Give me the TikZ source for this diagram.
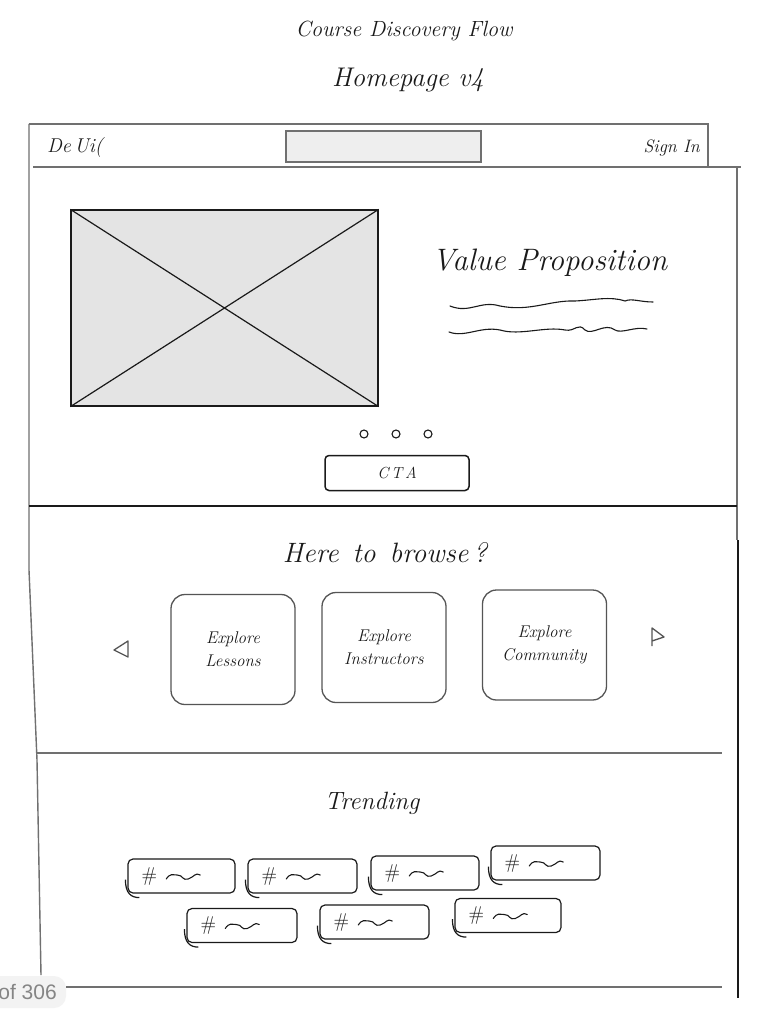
\documentclass[tikz,border=0pt]{standalone}
\usepackage{fontspec}
\newfontfamily\uisans{Liberation Sans}
\newcommand\hfs[1]{\fontsize{#1}{#1}\selectfont}
\definecolor{frame}{HTML}{707070}
\definecolor{ink}{HTML}{1A1A1A}
\definecolor{cardline}{HTML}{555555}
\definecolor{imgfill}{HTML}{E4E4E4}
\definecolor{searchfill}{HTML}{EEEEEE}
\definecolor{pillfill}{HTML}{F3F3F3}
\definecolor{pilltext}{HTML}{858585}
\tikzset{
  hand/.style={text=ink, font=\itshape, inner sep=0pt},
  framel/.style={draw=frame, line width=1.4pt},
  blackl/.style={draw=ink, line width=1.4pt},
  cardbox/.style={draw=cardline, line width=1.3pt, rounded corners=14pt, minimum width=124pt, minimum height=110pt, align=center, text=ink, font=\itshape\hfs{17}},
  tagbox/.style={draw=ink, line width=1.2pt, rounded corners=5pt, minimum height=34pt, inner sep=0pt},
  wave/.style={draw=ink, line width=1.1pt, line cap=round},
  hashtxt/.style={text=ink, font=\hfs{20}, inner sep=0pt}
}
\newcommand\tagitem[4]{% name, x, y, width
  \node[tagbox, minimum width=#4pt] (#1) at (#2,#3) {};
  \node[hashtxt, anchor=west] (#1h) at ([xshift=14pt]#1.west) {\#};
  \draw[wave] ([xshift=9pt,yshift=-3pt]#1h.east) .. controls +(4,-6) and +(-5,0) .. +(11,-4)
     .. controls +(6,0) and +(-6,2) .. +(22,0) .. controls +(6,-2) and +(-5,-3) .. +(34,-4);
  \draw[draw=ink, line width=1.2pt] ([xshift=-2pt,yshift=14pt]#1.south west) .. controls +(0,14) and +(-8,0) .. ([xshift=12pt,yshift=-4pt]#1.south west);
}
\begin{document}
\begin{tikzpicture}[x=1pt,y=-1pt]
\useasboundingbox (0,0) rectangle (769,1024);
\fill[white] (0,0) rectangle (769,1024);

% titles
\node[hand, font=\itshape\hfs{22}] (title) at (404,31) {Course Discovery Flow};
\node[hand, font=\itshape\hfs{27}] (sub) at (408,80) {Homepage v4};

% outer frame
\draw[framel] (29,124) -- (29,570) -- (37,760) -- (41,975);
\draw[framel] (29,124) -- (708,124) -- (708,167);
\draw[framel] (33,167) -- (741,167);
\draw[framel] (737,167) -- (737,540);
\draw[draw=ink, line width=2pt] (738,540) -- (738,998);
\draw[blackl] (29,506) -- (737,506);
\draw[framel] (37,753) -- (722,753);
\draw[framel] (66,987) -- (722,987);

% header
\node[hand, font=\itshape\hfs{20}, anchor=west] (logo) at (47,148) {De\,Ui(};
\node[draw=frame, line width=1.4pt, fill=searchfill, minimum width=195pt, minimum height=31pt, inner sep=0pt] (search) at (383.5,146.5) {};
\node[hand, font=\itshape\hfs{18}, anchor=east] (signin) at (700,148) {Sign In};

% hero
\node[draw=ink, line width=1.3pt, fill=imgfill, minimum width=307pt, minimum height=196pt, inner sep=0pt] (img) at (224.5,308) {};
\draw[draw=ink, line width=1.2pt] (img.north west) -- (img.south east);
\draw[draw=ink, line width=1.2pt] (img.south west) -- (img.north east);
\node[hand, font=\itshape\hfs{31}, anchor=west] (vp) at (432,263) {Value Proposition};
\draw[wave] (450,306) .. controls (470,314) and (480,300) .. (500,306) .. controls (530,312) and (550,300) .. (575,301)
   .. controls (595,300) and (610,296) .. (625,301) .. controls (632,298) and (640,302) .. (653,302);
\draw[wave] (449,332) .. controls (465,338) and (480,326) .. (500,330) .. controls (520,336) and (545,326) .. (565,330)
   .. controls (575,332) and (578,322) .. (585,330) .. controls (592,336) and (605,322) .. (615,330)
   .. controls (622,334) and (635,326) .. (647,329);
\foreach \cx/\nm in {364/d1,396/d2,428/d3}
  \node[draw=ink, line width=1.1pt, circle, minimum size=8pt, inner sep=0pt] (\nm) at (\cx,434) {};
\node[draw=ink, line width=1.5pt, rounded corners=4pt, minimum width=144pt, minimum height=35pt, text=ink, font=\itshape\hfs{16}] (cta) at (397,473) {C\,T\,A};

% browse
\node[hand, font=\itshape\hfs{28}] (browse) at (385,553) {Here\enspace to\enspace browse\,?};
\node[cardbox] (c1) at (233,649.5) {Explore\\[6pt]Lessons};
\node[cardbox] (c2) at (384,647.5) {Explore\\[6pt]Instructors};
\node[cardbox] (c3) at (544.5,645) {Explore\\[6pt]Community};
\draw[draw=cardline, line width=1.3pt, line join=round] (128,641) -- (114,650) -- (128,657) -- cycle;
\draw[draw=cardline, line width=1.3pt, line join=round] (652,646) -- (652,628) -- (664,637) -- (652,641);

% trending
\node[hand, font=\itshape\hfs{25}] (trend) at (372,803) {Trending};
\tagitem{t1}{181.5}{876}{107}
\tagitem{t2}{302.5}{876}{109}
\tagitem{t3}{425}{873}{108}
\tagitem{t4}{545.5}{863}{109}
\tagitem{t5}{242}{925.5}{110}
\tagitem{t6}{374.5}{922}{109}
\tagitem{t7}{508}{915.5}{106}

% page pill
\fill[pillfill, rounded corners=12pt] (-12,976) rectangle (66,1008);
\node[text=pilltext, font=\uisans\hfs{21}, anchor=east, inner sep=0pt] (page) at (57,992) {of 306};
\end{tikzpicture}
\end{document}
